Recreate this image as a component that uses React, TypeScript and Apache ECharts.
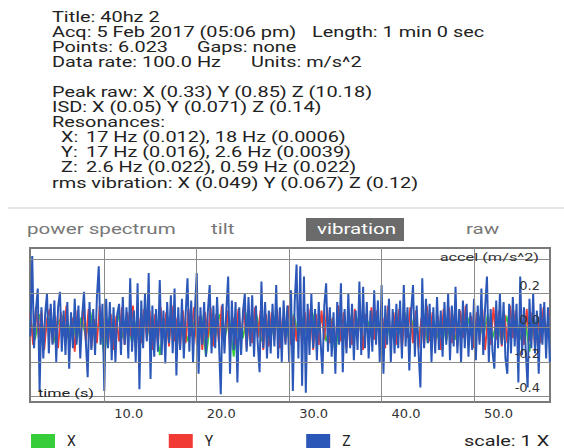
import React, { useEffect, useRef } from "react";
import * as echarts from "echarts";

// ---- data ----
const SERIES_NAMES = ["X", "Y", "Z"];
const SERIES_COLORS = ["#36cc3a", "#f23a34", "#2b58b8"];

const T_START = 2.0; // s
const X_STEP = 0.5;
const Y_STEP = 0.3;
const Z_STEP = 0.2;

const X_VALUES = [
  0.05, -0.07, 0.08, -0.04, 0.06, -0.09, 0.03, 0.07, -0.06, 0.05,
  -0.08, 0.06, -0.05, 0.09, -0.07, 0.04, -0.17, 0.06, -0.05, 0.08,
  -0.06, 0.07, -0.09, 0.04, -0.05, 0.08, -0.07, 0.06, -0.16, 0.05,
  -0.07, 0.09, -0.04, 0.06, -0.08, 0.05, -0.06, 0.07, -0.17, 0.04,
  -0.05, 0.08, -0.07, 0.06, -0.17, 0.05, -0.06, 0.09, -0.04, 0.07,
  -0.08, 0.05, -0.06, 0.07, -0.09, 0.04, -0.07, 0.08, -0.05, 0.06,
  -0.07, 0.09, -0.04, 0.06, -0.08, 0.05, -0.15, 0.07, -0.06, 0.08,
  -0.05, 0.06, -0.09, 0.04, -0.07, 0.08, -0.06, 0.05, -0.08, 0.07,
  -0.04, 0.09, -0.07, 0.06, -0.05, 0.08, -0.09, 0.04, -0.06, 0.07,
  -0.08, 0.05, -0.07, 0.09, -0.04, 0.06, -0.08, 0.07, -0.05, 0.08,
  -0.06, 0.04, -0.09, 0.07, -0.05, 0.08, -0.07, 0.06, -0.14, 0.05,
  -0.07, 0.08, -0.05,
];

const Y_VALUES = [
  0.08, -0.1, 0.12, -0.06, 0.1, -0.13, 0.05, 0.11, -0.09, 0.07,
  -0.12, 0.09, -0.05, 0.13, -0.1, 0.06, -0.14, 0.1, -0.07, 0.12,
  -0.08, 0.11, -0.12, 0.05, -0.09, 0.13, -0.06, 0.1, -0.11, 0.08,
  -0.13, 0.07, -0.08, 0.12, -0.1, 0.09, -0.05, 0.13, -0.12, 0.06,
  -0.09, 0.11, -0.07, 0.1, -0.13, 0.08, -0.1, 0.12, -0.06, 0.09,
  -0.11, 0.13, -0.08, 0.06, -0.12, 0.1, -0.09, 0.11, -0.05, 0.12,
  -0.1, 0.07, -0.13, 0.09, -0.06, 0.12, -0.11, 0.08, -0.09, 0.13,
  -0.07, 0.1, -0.12, 0.06, -0.1, 0.11, -0.08, 0.13, -0.12, 0.07,
  -0.09, 0.12, -0.06, 0.1, -0.13, 0.08, -0.11, 0.09, -0.07, 0.11,
  -0.12, 0.06, -0.09, 0.13, -0.1, 0.07, -0.08, 0.12, -0.11, 0.09,
  -0.06, 0.11, -0.13, 0.08, -0.1, 0.1, -0.07, 0.12, -0.09, 0.06,
  -0.11, 0.13, -0.08, 0.09, -0.12, 0.07, -0.1, 0.11, -0.06, 0.1,
  -0.13, 0.08, -0.09, 0.12, -0.07, 0.1, -0.11, 0.06, -0.12, 0.13,
  -0.08, 0.09, -0.1, 0.11, -0.13, 0.07, -0.06, 0.12, -0.09, 0.1,
  -0.12, 0.06, -0.11, 0.13, -0.08, 0.09, -0.1, 0.07, -0.13, 0.11,
  -0.07, 0.12, -0.09, 0.08, -0.11, 0.1, -0.06, 0.13, -0.1, 0.07,
  -0.12, 0.09, -0.08, 0.11, -0.13, 0.06, -0.1, 0.12, -0.07, 0.1,
  -0.11, 0.08, -0.09, 0.13, -0.06, 0.1, -0.12, 0.07, -0.1, 0.11,
  -0.08, 0.09, -0.12, 0.06, -0.09, 0.12, -0.07, 0.1,
];

const Z_VALUES = [
  -0.05, 0.42, -0.12, 0.1, 0.23, -0.37, 0.12, -0.18, 0.08, 0.2,
  -0.15, 0.14, -0.1, 0.16, -0.2, 0.12, 0.21, -0.14, 0.1, -0.16,
  0.15, -0.24, 0.09, -0.12, 0.17, -0.1, 0.13, -0.18, 0.06, 0.21,
  -0.08, -0.29, 0.15, -0.13, 0.11, -0.16, 0.18, 0.36, -0.1, 0.14,
  -0.37, 0.17, -0.12, 0.15, -0.19, 0.12, -0.2, 0.08, 0.14, -0.16,
  0.18, -0.1, 0.12, -0.18, 0.29, -0.14, 0.1, -0.2, 0.26, -0.36,
  0.16, -0.12, 0.2, -0.08, 0.32, -0.3, 0.13, -0.17, 0.11, -0.14,
  0.28, -0.16, 0.1, -0.21, 0.15, -0.09, 0.19, -0.15, 0.23, -0.28,
  0.12, -0.13, 0.17, -0.18, 0.08, 0.29, -0.14, 0.16, -0.2, 0.1,
  0.32, -0.27, 0.12, -0.1, 0.15, -0.17, 0.09, 0.25, -0.15, 0.13,
  -0.12, 0.18, -0.08, -0.39, 0.14, -0.15, 0.1, 0.3, -0.27, 0.16,
  -0.13, 0.15, -0.32, 0.12, -0.16, 0.09, 0.2, -0.14, 0.18, -0.11,
  0.19, -0.17, 0.13, -0.09, -0.26, 0.27, -0.12, 0.15, -0.18, 0.1,
  -0.15, 0.14, -0.11, 0.25, -0.18, 0.12, -0.2, 0.16, -0.1, 0.13,
  -0.2, 0.22, -0.37, 0.15, 0.37, -0.18, 0.36, -0.34, 0.3, -0.38,
  0.14, -0.16, 0.2, -0.12, 0.11, -0.19, 0.15, -0.08, -0.27, 0.13,
  0.26, -0.14, 0.12, -0.17, 0.09, -0.27, 0.15, -0.1, 0.26, -0.26,
  0.11, -0.15, 0.2, -0.12, 0.14, -0.19, 0.1, -0.13, 0.27, -0.16,
  0.24, -0.12, 0.15, -0.18, 0.1, -0.14, 0.22, -0.1, 0.16, -0.2,
  0.25, -0.27, 0.13, -0.1, 0.17, -0.2, 0.11, -0.15, 0.14, -0.12,
  0.16, -0.18, 0.25, -0.11, 0.12, -0.25, 0.1, 0.25, -0.17, 0.13,
  -0.14, -0.35, 0.29, -0.12, 0.17, -0.09, 0.14, -0.2, 0.12, -0.15,
  0.18, -0.13, 0.1, -0.17, 0.15, -0.1, 0.2, -0.19, 0.13, -0.11,
  0.24, -0.15, 0.11, -0.2, 0.16, -0.12, 0.14, -0.17, 0.09, -0.13,
  0.17, -0.19, 0.13, -0.1, 0.23, -0.16, 0.12, 0.3, -0.2, 0.11,
  -0.14, -0.24, 0.16, -0.12, 0.2, -0.1, 0.15, -0.18, -0.27, 0.14,
  -0.15, 0.18, -0.11, 0.14, -0.32, 0.3, -0.16, 0.12, -0.14, -0.35,
  0.17, -0.12, 0.2, -0.15, 0.1, -0.27, 0.14, -0.1, 0.15, -0.18,
  0.12, -0.2,
];

const X_TICKS = [10, 20, 30, 40, 50];
const Y_TICK_LABELS = [-0.4, -0.2, 0, 0.2];
const Y_GRID = [-0.4, -0.2, 0, 0.2, 0.4];
const X_RANGE = [1.96, 58.22];
const Y_RANGE = [-0.435, 0.467];

const HEADER_LINES: [string, number, number][] = [
  ["Title: 40hz 2", 52, 17],
  ["Acq: 5 Feb 2017 (05:06 pm)", 52, 32],
  ["Length: 1 min 0 sec", 312, 32],
  ["Points: 6.023", 52, 47],
  ["Gaps: none", 197, 47],
  ["Data rate: 100.0 Hz", 52, 62],
  ["Units: m/s^2", 251, 62],
  ["Peak raw: X (0.33) Y (0.85) Z (10.18)", 52, 92],
  ["ISD: X (0.05) Y (0.071) Z (0.14)", 52, 107],
  ["Resonances:", 52, 122],
  ["X:", 61, 137],
  ["17 Hz (0.012), 18 Hz (0.0006)", 86, 137],
  ["Y:", 61, 152],
  ["17 Hz (0.016), 2.6 Hz (0.0039)", 86, 152],
  ["Z:", 61, 167],
  ["2.6 Hz (0.022), 0.59 Hz (0.022)", 86, 167],
  ["rms vibration: X (0.049) Y (0.067) Z (0.12)", 52, 183],
];

const TABS: [string, number][] = [
  ["power spectrum", 27],
  ["tilt", 211],
  ["vibration", 317],
  ["raw", 466],
];
const ACTIVE_TAB = "vibration";

const SX = 1.42; // horizontal stretch of the reference screenshot

function toPairs(values: number[], step: number) {
  return values.map((v, i) => [+(T_START + i * step).toFixed(2), v]);
}

export default function App() {
  const ref = useRef<HTMLDivElement>(null);

  useEffect(() => {
    document.body.style.margin = "0";
    if (!ref.current) return;
    const chart = echarts.init(ref.current, null, { renderer: "svg" });

    const textEl = (
      text: string,
      x: number,
      y: number,
      size: number,
      fill: string,
      align: string = "left",
      z = 10
    ) => ({
      type: "text",
      x,
      y,
      scaleX: SX,
      z,
      silent: true,
      style: {
        text,
        fontSize: size,
        fontFamily: "Roboto",
        fill,
        align,
        verticalAlign: "middle",
      },
    });

    const graphic: any[] = [];
    HEADER_LINES.forEach(([t, x, y]) => graphic.push(textEl(t, x, y, 14, "#222")));
    graphic.push({
      type: "line",
      shape: { x1: 8, y1: 208, x2: 564, y2: 208 },
      style: { stroke: "#e6e6e6", lineWidth: 2 },
      silent: true,
    });
    graphic.push({
      type: "rect",
      shape: { x: 306, y: 218, width: 98, height: 23 },
      style: { fill: "#6b6b6b" },
      silent: true,
    });
    TABS.forEach(([t, x]) =>
      graphic.push(textEl(t, x, 229, 14.5, t === ACTIVE_TAB ? "#ffffff" : "#777777"))
    );
    graphic.push(textEl("accel (m/s^2)", 539, 257, 11.5, "#333", "right", 100));
    graphic.push(textEl("time (s)", 38, 393, 11.5, "#222", "left", 100));
    graphic.push(textEl("scale: 1 X", 464, 441, 14, "#222"));

    const seriesData = [
      toPairs(X_VALUES, X_STEP),
      toPairs(Y_VALUES, Y_STEP),
      toPairs(Z_VALUES, Z_STEP),
    ];

    const gridLines = [
      ...Y_GRID.map((v) => ({ yAxis: v })),
      ...X_TICKS.map((v) => ({ xAxis: v })),
    ];

    chart.setOption({
      animation: false,
      grid: {
        left: 30,
        right: 14,
        top: 248,
        bottom: 46,
        show: true,
        borderColor: "#7a7a7a",
        borderWidth: 2,
        backgroundColor: "transparent",
      },
      legend: {
        data: SERIES_NAMES,
        left: 31,
        top: 434,
        padding: 0,
        icon: "rect",
        itemWidth: 24,
        itemHeight: 14,
        itemGap: 93,
        selectedMode: false,
        textStyle: {
          fontSize: 14,
          lineHeight: 14,
          fontFamily: "Roboto",
          color: "#222",
          padding: [0, 0, 0, 7],
        },
      },
      xAxis: {
        type: "value",
        min: X_RANGE[0],
        max: X_RANGE[1],
        axisLine: { show: false },
        splitLine: { show: false },
        axisTick: {
          show: true,
          customValues: X_TICKS,
          length: 15,
          lineStyle: { color: "#666", width: 1.5 },
        },
        axisLabel: {
          customValues: X_TICKS,
          formatter: (v: number) => v.toFixed(1),
          align: "left",
          padding: [0, 0, 0, 10],
          margin: 5,
          fontFamily: "DejaVu Sans",
          fontSize: 13,
          color: "#333",
        },
      },
      yAxis: {
        type: "value",
        position: "right",
        min: Y_RANGE[0],
        max: Y_RANGE[1],
        axisLine: { show: false },
        axisTick: { show: false },
        splitLine: { show: false },
        axisLabel: {
          inside: true,
          customValues: Y_TICK_LABELS,
          formatter: (v: number) => v.toFixed(1),
          margin: 10,
          verticalAlign: "bottom",
          lineHeight: 17,
          fontFamily: "DejaVu Sans",
          fontSize: 13,
          color: "#333",
        },
        z: 10,
      },
      series: SERIES_NAMES.map((name, i) => ({
        name,
        type: "line",
        data: seriesData[i],
        showSymbol: false,
        symbol: "none",
        color: SERIES_COLORS[i],
        lineStyle: { width: i === 2 ? 2 : 1.8, color: SERIES_COLORS[i] },
        emphasis: { disabled: true },
        z: 2 + i,
        markLine:
          i === 0
            ? {
                silent: true,
                symbol: ["none", "none"],
                label: { show: false },
                lineStyle: { color: "#8a8a8a", width: 1, type: "solid" },
                data: gridLines,
              }
            : undefined,
      })),
      graphic,
    });

    return () => chart.dispose();
  }, []);

  return <div ref={ref} style={{ width: 564, height: 448 }} />;
}
